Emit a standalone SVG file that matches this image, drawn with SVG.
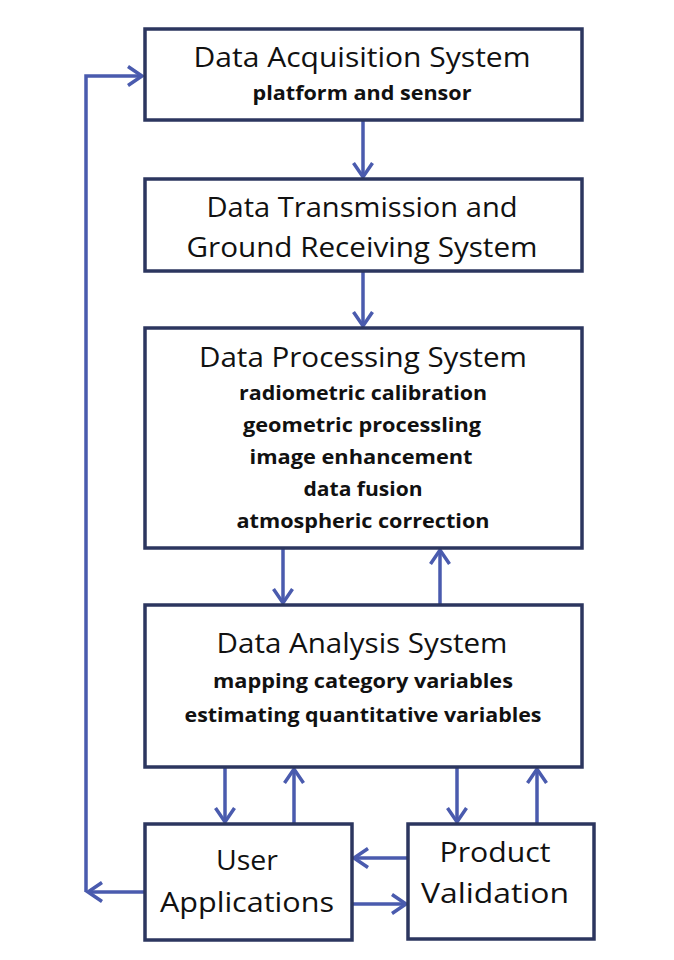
<svg xmlns="http://www.w3.org/2000/svg" width="674" height="960" viewBox="0 0 674 960">
<style>
.box{fill:#ffffff;stroke:#2c365f;stroke-width:3.5}
.t{font-family:"Open Sans","Liberation Sans",sans-serif;font-size:27px;fill:#111111;text-anchor:middle}
.s{font-family:"Open Sans","Liberation Sans",sans-serif;font-size:20px;font-weight:bold;fill:#111111;text-anchor:middle}
.c{fill:none;stroke:#4a5bae;stroke-width:3.5}
</style>
<defs>
<marker id="ah" markerUnits="userSpaceOnUse" viewBox="-15 -11 17 22" refX="0" refY="0" markerWidth="17" markerHeight="22" orient="auto" overflow="visible">
<path d="M-14,-9.5 L0,0 L-14,9.5" fill="none" stroke="#4a5bae" stroke-width="3.5" stroke-linejoin="miter"/>
</marker>
</defs>
<rect width="674" height="960" fill="#ffffff"/>
<g id="connectors">
<path class="c" d="M363,120 L363,177" marker-end="url(#ah)"/>
<path class="c" d="M363,271 L363,326" marker-end="url(#ah)"/>
<path class="c" d="M283,548 L283,603" marker-end="url(#ah)"/>
<path class="c" d="M440,605 L440,550" marker-end="url(#ah)"/>
<path class="c" d="M225,767 L225,822" marker-end="url(#ah)"/>
<path class="c" d="M294,824 L294,769" marker-end="url(#ah)"/>
<path class="c" d="M457,767 L457,822" marker-end="url(#ah)"/>
<path class="c" d="M537,824 L537,769" marker-end="url(#ah)"/>
<path class="c" d="M408,858 L354,858" marker-end="url(#ah)"/>
<path class="c" d="M352,904 L406,904" marker-end="url(#ah)"/>
<path class="c" d="M144,892 L88,892" marker-end="url(#ah)"/>
<path class="c" d="M86,892 L86,76 L142,76" marker-end="url(#ah)"/>
</g>
<g id="acquisition">
<rect class="box" x="145" y="29" width="437" height="91"/>
<text class="t" x="362" y="67" textLength="337" lengthAdjust="spacingAndGlyphs">Data Acquisition System</text>
<text class="s" x="362" y="100" textLength="219" lengthAdjust="spacingAndGlyphs">platform and sensor</text>
</g>
<g id="transmission">
<rect class="box" x="145" y="179" width="437" height="92"/>
<text class="t" x="362" y="217" textLength="311" lengthAdjust="spacingAndGlyphs">Data Transmission and</text>
<text class="t" x="362" y="257" textLength="351" lengthAdjust="spacingAndGlyphs">Ground Receiving System</text>
</g>
<g id="processing">
<rect class="box" x="145" y="328" width="437" height="220"/>
<text class="t" x="363" y="367" textLength="328" lengthAdjust="spacingAndGlyphs">Data Processing System</text>
<text class="s" x="363" y="400" textLength="248" lengthAdjust="spacingAndGlyphs">radiometric calibration</text>
<text class="s" x="362" y="432" textLength="238" lengthAdjust="spacingAndGlyphs">geometric processling</text>
<text class="s" x="361" y="464" textLength="223" lengthAdjust="spacingAndGlyphs">image enhancement</text>
<text class="s" x="363" y="496" textLength="119" lengthAdjust="spacingAndGlyphs">data fusion</text>
<text class="s" x="363" y="528" textLength="253" lengthAdjust="spacingAndGlyphs">atmospheric correction</text>
</g>
<g id="analysis">
<rect class="box" x="145" y="605" width="437" height="162"/>
<text class="t" x="362" y="653" textLength="291" lengthAdjust="spacingAndGlyphs">Data Analysis System</text>
<text class="s" x="363" y="688" textLength="300" lengthAdjust="spacingAndGlyphs">mapping category variables</text>
<text class="s" x="363" y="722" textLength="357" lengthAdjust="spacingAndGlyphs">estimating quantitative variables</text>
</g>
<g id="user">
<rect class="box" x="145" y="824" width="207" height="116"/>
<text class="t" x="247" y="870" textLength="62" lengthAdjust="spacingAndGlyphs">User</text>
<text class="t" x="247" y="912" textLength="174" lengthAdjust="spacingAndGlyphs">Applications</text>
</g>
<g id="validation">
<rect class="box" x="408" y="824" width="186" height="115"/>
<text class="t" x="495" y="862" textLength="111" lengthAdjust="spacingAndGlyphs">Product</text>
<text class="t" x="495" y="903" textLength="148" lengthAdjust="spacingAndGlyphs">Validation</text>
</g>
</svg>
